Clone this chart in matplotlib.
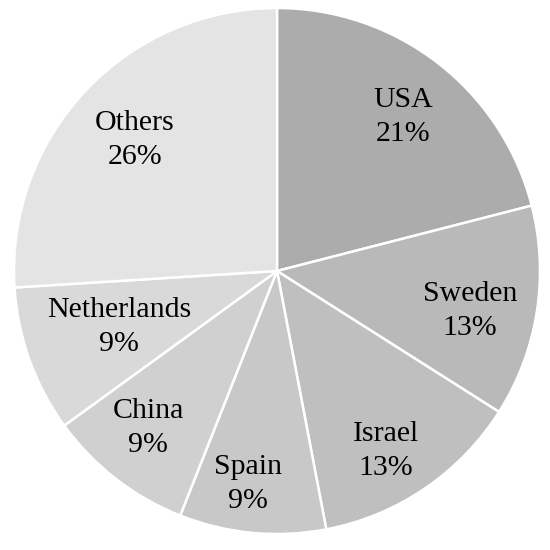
import matplotlib
matplotlib.use("Agg")
import matplotlib.pyplot as plt
import numpy as np

countries = ["USA", "Sweden", "Israel", "Spain", "China", "Netherlands", "Others"]
shares = [21, 13, 13, 9, 9, 9, 26]
colors = ["#acacac", "#b9b9b9", "#bfbfbf", "#c8c8c8", "#d0d0d0", "#d9d9d9", "#e4e4e4"]
label_r = [0.757, 0.749, 0.80, 0.817, 0.773, 0.636, 0.735]
label_dtheta = [-1.5, -2.7, -3.0, -2.4, -1.6, -0.2, 0.5]

fig = plt.figure(figsize=(5.5, 5.5), dpi=100)
ax = fig.add_axes([0.0, 0.0, 1.0, 1.0])
wedges, _ = ax.pie(shares, colors=colors, startangle=90, counterclock=False,
                   radius=1.0,
                   wedgeprops=dict(edgecolor="white", linewidth=1.8))
for w, name, val, rf, dt in zip(wedges, countries, shares, label_r, label_dtheta):
    ang = np.deg2rad((w.theta1 + w.theta2) / 2 + dt)
    x, y = rf * np.cos(ang), rf * np.sin(ang)
    ax.text(x, y, f"{name}\n{val}%", ha="center", va="center",
            fontsize=21.5, family="Liberation Serif", linespacing=1.42, color="black")
# center at (277,271) px, radius 263 px
cx, cy, r = 277, 271, 263
ax.set_xlim(-cx / r, (550 - cx) / r)
ax.set_ylim(-(550 - cy) / r, cy / r)
ax.set_aspect("equal")
ax.axis("off")
fig.savefig("out.png", dpi=100, facecolor="white")
